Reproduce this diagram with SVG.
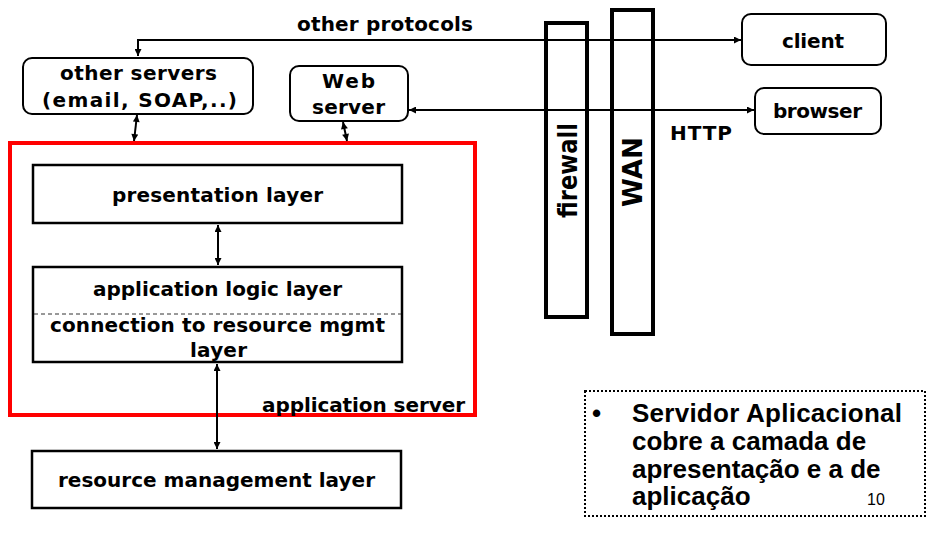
<svg xmlns="http://www.w3.org/2000/svg" width="935" height="538" viewBox="0 0 935 538">
  <style>
    .lbl { font-family: "DejaVu Sans", "Liberation Sans", sans-serif; font-weight: bold; font-size: 20px; fill: #000; }
    .big { font-size: 26px; }
    .box { fill: #fff; stroke: #000; stroke-width: 2.5; }
    .rbox { fill: #fff; stroke: #000; stroke-width: 2; }
    .wall { fill: #fff; stroke: #000; stroke-width: 4; }
    .link { fill: none; stroke: #000; stroke-width: 2; }
    .note { font-family: "Liberation Sans", Arial, sans-serif; font-weight: bold; font-size: 26px; fill: #000; }
  </style>
  <defs>
    <marker id="head" viewBox="0 0 10 10" refX="10" refY="5" markerWidth="8" markerHeight="7" markerUnits="userSpaceOnUse" orient="auto-start-reverse">
      <path d="M0,0 L10,5 L0,10 z" fill="#000"/>
    </marker>
  </defs>

  <rect width="935" height="538" fill="#fff"/>

  <!-- application server boundary -->
  <g id="app-server">
    <rect x="10" y="143" width="465" height="272" fill="none" stroke="#ff0000" stroke-width="4"/>
    <text class="lbl" x="262" y="412" textLength="203">application server</text>
  </g>

  <!-- firewall and WAN columns -->
  <g id="firewall">
    <rect class="wall" x="546" y="23" width="41" height="294"/>
    <text class="lbl big" transform="translate(577 218) rotate(-90)" textLength="95" lengthAdjust="spacingAndGlyphs">firewall</text>
  </g>
  <g id="wan">
    <rect class="wall" x="612" y="10" width="41" height="324"/>
    <text class="lbl big" transform="translate(642 207) rotate(-90)" textLength="70" lengthAdjust="spacingAndGlyphs">WAN</text>
  </g>

  <!-- connectors -->
  <g id="connectors">
    <path class="link" d="M138 56 V40 H741" marker-start="url(#head)" marker-end="url(#head)"/>
    <path class="link" d="M409 110 H754" marker-start="url(#head)" marker-end="url(#head)"/>
    <path class="link" d="M137 115 L134 141" marker-start="url(#head)" marker-end="url(#head)"/>
    <path class="link" d="M343 122 L347 141" marker-start="url(#head)" marker-end="url(#head)"/>
    <path class="link" d="M218 225 V265" marker-start="url(#head)" marker-end="url(#head)"/>
    <path class="link" d="M217 364 V449" marker-start="url(#head)" marker-end="url(#head)"/>
    <text class="lbl" x="297" y="31" textLength="176">other protocols</text>
    <text class="lbl" x="670" y="140" textLength="62">HTTP</text>
  </g>

  <g id="other-servers">
    <rect class="rbox" x="23" y="58" width="230" height="56" rx="9"/>
    <text class="lbl" x="60" y="80" textLength="157">other servers</text>
    <text class="lbl" x="42" y="107" textLength="195">(email, SOAP,..)</text>
  </g>

  <g id="web-server">
    <rect class="rbox" x="290" y="66" width="118" height="55" rx="9"/>
    <text class="lbl" x="322" y="88" textLength="53">Web</text>
    <text class="lbl" x="312" y="114" textLength="73">server</text>
  </g>

  <g id="client">
    <rect class="rbox" x="742" y="14" width="144" height="51" rx="9"/>
    <text class="lbl" x="782" y="48" textLength="62">client</text>
  </g>

  <g id="browser">
    <rect class="rbox" x="755" y="88" width="126" height="46" rx="9"/>
    <text class="lbl" x="773" y="118" textLength="89">browser</text>
  </g>

  <g id="presentation-layer">
    <rect class="box" x="33" y="165" width="369" height="58"/>
    <text class="lbl" x="112" y="202" textLength="211">presentation layer</text>
  </g>

  <g id="application-logic-layer">
    <rect class="box" x="33" y="267" width="369" height="95"/>
    <line x1="34" y1="314" x2="401" y2="314" stroke="#333" stroke-width="1" stroke-dasharray="4 3"/>
    <text class="lbl" x="93" y="296" textLength="249">application logic layer</text>
    <text class="lbl" x="50" y="332" textLength="335">connection to resource mgmt</text>
    <text class="lbl" x="190" y="357" textLength="57">layer</text>
  </g>

  <g id="resource-management-layer">
    <rect class="box" x="32" y="451" width="369" height="57"/>
    <text class="lbl" x="58" y="487" textLength="317">resource management layer</text>
  </g>

  <!-- note -->
  <g id="note">
    <rect x="585" y="391" width="340" height="125" fill="none" stroke="#000" stroke-width="2" stroke-dasharray="2 2"/>
    <text class="note" x="592" y="422">•</text>
    <text class="note" x="632" y="422" textLength="270">Servidor Aplicacional</text>
    <text class="note" x="632" y="450">cobre a camada de</text>
    <text class="note" x="632" y="478">apresentação e a de</text>
    <text class="note" x="632" y="505">aplicação</text>
    <text x="867" y="505" font-family="Liberation Sans, Arial, sans-serif" font-size="16" fill="#000">10</text>
  </g>
</svg>
